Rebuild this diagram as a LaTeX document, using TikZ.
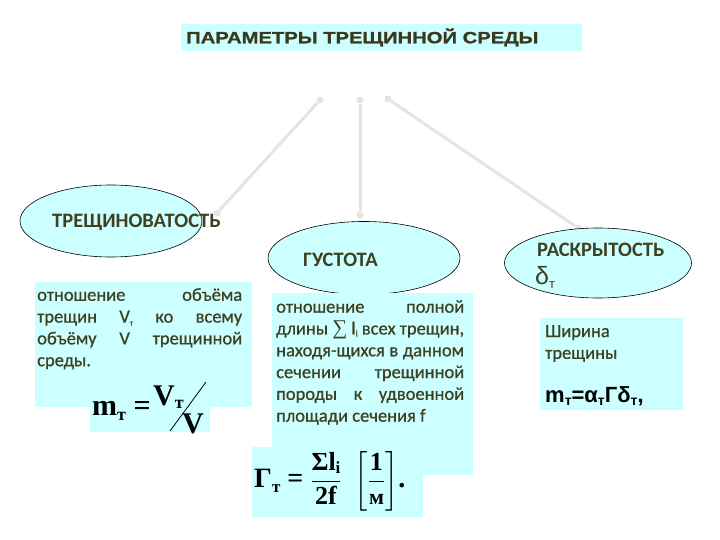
\documentclass[tikz,border=0pt]{standalone}
\usepackage{amsmath}
\usepackage{fontspec}
\setmainfont{Carlito}
\newfontfamily\bodyfont[FakeBold=0.7]{Carlito}
\newfontfamily\headfont[FakeStretch=1.24, FakeBold=1.2]{Liberation Sans}
\newfontfamily\sansfont{Liberation Sans}
\newfontfamily\formfont{Liberation Serif}
\usetikzlibrary{shapes.geometric, positioning}
\definecolor{pale}{HTML}{CCFFFF}
\definecolor{olive}{HTML}{3F4020}
\definecolor{linkgray}{HTML}{E6E4DC}

\begin{document}
\begin{tikzpicture}[
    x=1pt, y=-1pt,
    every node/.style={text=olive},
    oval/.style={ellipse, draw=black, line width=0.6pt, fill=pale, inner sep=0pt},
    ovaltext/.style={font=\bfseries\fontsize{20.5}{22}\selectfont},
    panel/.style={rectangle, fill=pale, inner sep=0pt, anchor=north west},
    body/.style={anchor=north west, inner sep=0pt, align=justify,
                 font=\bodyfont\fontsize{18.5}{21.8}\selectfont},
    formula/.style={font=\formfont\bfseries\fontsize{30}{30}\selectfont, text=black,
                    inner sep=0pt, anchor=base west},
    link/.style={linkgray, line width=3pt},
    joint/.style={circle, fill=linkgray, inner sep=0pt, minimum size=7pt},
  ]

  % Page
  \useasboundingbox (0,0) rectangle (720,540);

  % Title
  \node[panel, minimum width=401pt, minimum height=27pt] (title) at (181,24) {};
  \node[font=\headfont\bfseries\fontsize{16.3}{18}\selectfont, text=olive!90!black,
        anchor=west, inner sep=0pt] (titletext) at (186,37.5) {ПАРАМЕТРЫ ТРЕЩИННОЙ СРЕДЫ};

  % Connector ends
  \node[joint] (j1) at (320,100) {};
  \node[joint] (j2) at (360,100) {};
  \node[joint] (j3) at (388,99) {};
  \node[joint] (e1) at (217,213) {};
  \node[joint] (e2) at (360,215) {};
  \node[joint] (e3) at (578,228) {};
  \draw[link] (j1) -- (e1);
  \draw[link] (j2) -- (e2);
  \draw[link] (j3) -- (e3);

  % Ellipses
  \node[oval, minimum width=182pt, minimum height=72pt] (crack) at (111,221) {};
  \node[ovaltext, anchor=west, inner sep=0pt] (cracklabel) at (52,222)
    {ТРЕЩИНОВАТОСТЬ};
  \node[oval, minimum width=192pt, minimum height=73pt] (dens) at (364,258) {};
  \node[ovaltext, anchor=west, inner sep=0pt] (denslabel) at (303,260)
    {ГУСТОТА};
  \node[oval, minimum width=187pt, minimum height=70pt] (open) at (598,263) {};
  \node[ovaltext, anchor=west, inner sep=0pt] (openlabel)
    at (537,250) {РАСКРЫТОСТЬ};
  \node[font=\sansfont\fontsize{25}{25}\selectfont, anchor=west, inner sep=0pt] (opensym)
    at (535,277) {δ\raisebox{-4pt}{\fontsize{13}{13}\selectfont т}};

  % Left panel
  \node[panel, minimum width=217pt, minimum height=125pt] (leftbox) at (35,282) {};
  \node[body, text width=205pt] (lefttext) at (37,288)
    {отношение объёма\linebreak
     трещин V\raisebox{-3pt}{\fontsize{8}{8}\selectfont т} ко всему\linebreak
     объёму V трещинной\linebreak
     среды.};
  \node[panel, minimum width=120pt, minimum height=64pt] (leftform) at (90,368) {};
  \node[formula] (leftm) at (92,415)
    {m\raisebox{-5pt}{\fontsize{18}{18}\selectfont т} =};
  \node[formula] (leftv1) at (153,405)
    {V\raisebox{-3pt}{\fontsize{18}{18}\selectfont т}};
  \node[formula] (leftv2) at (182,433) {V};
  \coordinate (slashtop) at (206,382);
  \coordinate (slashbot) at (170,431);
  \draw[black, line width=0.8pt] (slashtop) -- (slashbot);

  % Middle panel
  \node[panel, minimum width=201pt, minimum height=182pt] (midbox) at (272,293) {};
  \node[body, text width=188pt] (midtext) at (276,300)
    {отношение полной\linebreak
     длины {\formfont\fontsize{21}{21}\selectfont ∑} l\raisebox{-2pt}{\fontsize{9}{9}\selectfont i} всех трещин,\linebreak
     находя-щихся в данном\linebreak
     сечении трещинной\linebreak
     породы к удвоенной\linebreak
     площади сечения f};
  \node[panel, minimum width=171pt, minimum height=70pt] (midform) at (252,447) {};
  \node[formula, font=\formfont\bfseries\fontsize{28}{28}\selectfont, anchor=west]
    (midformula) at (254,481)
    {Г\raisebox{-5pt}{\fontsize{17}{17}\selectfont т} =
     $\dfrac{\mbox{\formfont\bfseries\fontsize{26}{26}\selectfont Σl\raisebox{-3pt}{\fontsize{17}{17}\selectfont i}}}
            {\mbox{\formfont\bfseries\fontsize{26}{26}\selectfont 2f}}$\hspace{6pt}
     $\left[\dfrac{\mbox{\formfont\bfseries\fontsize{26}{26}\selectfont 1}}{\mbox{\formfont\bfseries\fontsize{22}{22}\selectfont м}}\right]$.};

  % Right panel
  \node[panel, minimum width=143pt, minimum height=92pt] (rightbox) at (540,318) {};
  \node[body, align=left, text width=135pt] (righttext) at (545,325)
    {Ширина\\ трещины};
  \node[font=\sansfont\bfseries\fontsize{22}{22}\selectfont, text=black, anchor=base west,
        inner sep=0pt] (rightformula) at (545,402)
    {m\raisebox{-3pt}{\fontsize{14}{14}\selectfont т}=α\raisebox{-3pt}{\fontsize{14}{14}\selectfont т}Гδ\raisebox{-3pt}{\fontsize{14}{14}\selectfont т},};

\end{tikzpicture}
\end{document}
